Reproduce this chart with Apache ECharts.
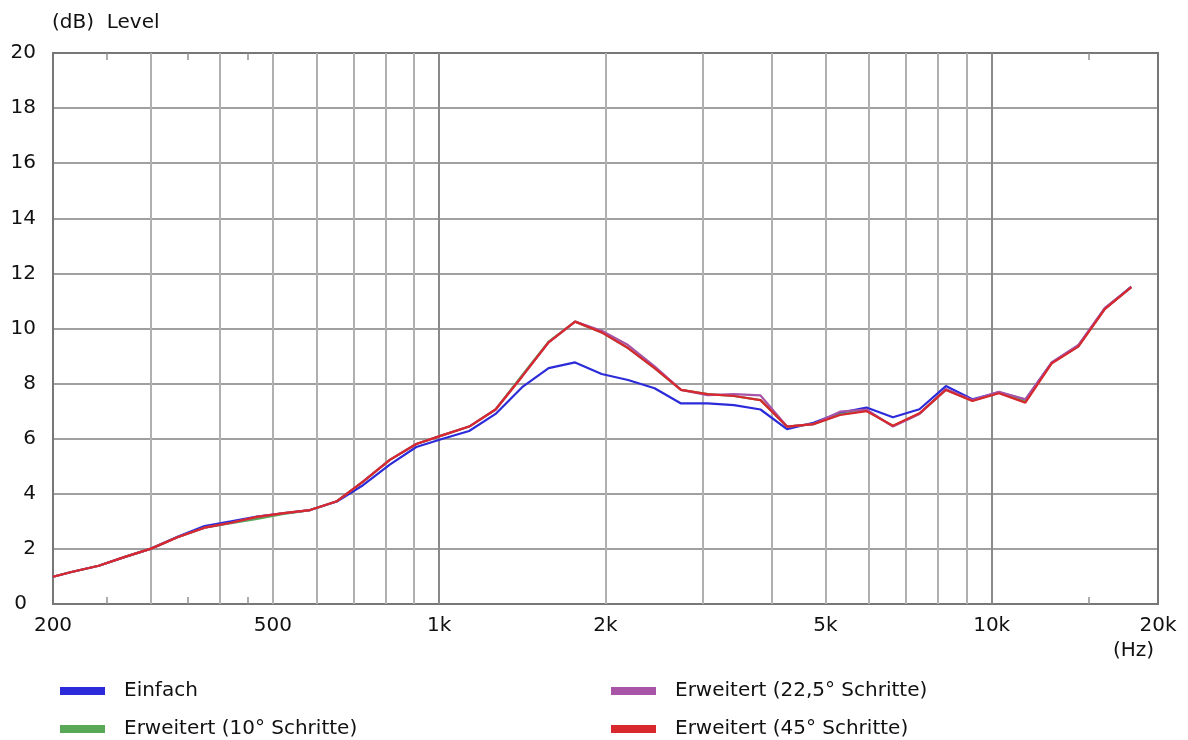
<!DOCTYPE html>
<html><head><meta charset="utf-8">
<script src="https://cdn.jsdelivr.net/npm/echarts@6/dist/echarts.min.js"></script>
<style>html,body{margin:0;padding:0;background:#fff}#c{width:1188px;height:740px}</style>
</head><body><div id="c"></div><script>
// Frequencies (Hz)
const freqs = [200, 216, 242, 270, 301, 336, 376, 420, 468, 523, 584, 653, 729, 814, 909,
  1015, 1133, 1265, 1413, 1578, 1762, 1968, 2197, 2454, 2740, 3060, 3417, 3816, 4261, 4758,
  5314, 5934, 6626, 7400, 8263, 9228, 10305, 11507, 12850, 14350, 16024, 17894];
// Level (dB)
const einfach = [0.99, 1.16, 1.39, 1.71, 2.01, 2.44, 2.83, 3.00, 3.17, 3.29, 3.41, 3.72, 4.32, 5.06, 5.70,
  6.00, 6.28, 6.90, 7.87, 8.56, 8.77, 8.35, 8.13, 7.83, 7.28, 7.28, 7.22, 7.06, 6.35, 6.58,
  6.94, 7.13, 6.78, 7.07, 7.91, 7.43, 7.68, 7.42, 8.77, 9.38, 10.72, 11.52];
const erw10 = [0.99, 1.16, 1.39, 1.71, 2.01, 2.42, 2.77, 2.93, 3.09, 3.27, 3.41, 3.73, 4.45, 5.23, 5.81,
  6.13, 6.44, 7.06, 8.31, 9.52, 10.25, 9.86, 9.29, 8.56, 7.77, 7.62, 7.55, 7.40, 6.44, 6.53,
  6.88, 7.02, 6.46, 6.91, 7.78, 7.38, 7.67, 7.36, 8.75, 9.36, 10.72, 11.50];
const erw22 = [0.99, 1.16, 1.39, 1.71, 2.01, 2.42, 2.77, 2.95, 3.16, 3.30, 3.41, 3.73, 4.45, 5.23, 5.81,
  6.13, 6.44, 7.06, 8.26, 9.50, 10.25, 9.92, 9.40, 8.63, 7.77, 7.58, 7.62, 7.57, 6.44, 6.53,
  6.98, 7.06, 6.44, 6.90, 7.80, 7.40, 7.70, 7.43, 8.77, 9.40, 10.75, 11.50];
const erw45 = [0.99, 1.16, 1.39, 1.71, 2.01, 2.42, 2.77, 2.95, 3.16, 3.30, 3.41, 3.73, 4.45, 5.23, 5.81,
  6.13, 6.44, 7.06, 8.26, 9.50, 10.25, 9.86, 9.29, 8.56, 7.77, 7.62, 7.55, 7.40, 6.44, 6.53,
  6.86, 7.00, 6.47, 6.92, 7.77, 7.37, 7.65, 7.31, 8.74, 9.34, 10.70, 11.50];

const seriesNames = ['Einfach', 'Erweitert (10° Schritte)', 'Erweitert (22,5° Schritte)', 'Erweitert (45° Schritte)'];
const seriesColors = ['#2b2bd9', '#58a858', '#a855a8', '#d8282e'];

// x-axis gridlines / ticks / labels
const minorGrid = [300, 400, 500, 600, 700, 800, 900, 2000, 3000, 4000, 5000, 6000, 7000, 8000, 9000];
const majorGrid = [1000, 10000];
const shortTicks = [250, 350, 450, 15000];
const xTickValues = [200, 500, 1000, 2000, 5000, 10000, 20000];
const xTickLabels = ['200', '500', '1k', '2k', '5k', '10k', '20k'];

const FONT = 'DejaVu Sans';
const chart = echarts.init(document.getElementById('c'));
const zip = (a, b) => a.map((v, i) => [v, b[i]]);
const dataSets = [einfach, erw10, erw22, erw45];

const series = dataSets.map((d, i) => ({
  name: seriesNames[i], type: 'line', data: zip(freqs, d), showSymbol: false, symbol: 'none',
  lineStyle: { width: 2.2, color: seriesColors[i] }, itemStyle: { color: seriesColors[i] }, z: 5 + i, clip: true
}));

series.push({
  type: 'line', data: [], z: 1, silent: true,
  markLine: {
    silent: true, symbol: 'none', animation: false,
    label: { show: false },
    lineStyle: { color: '#b0b0b0', width: 2, type: 'solid' },
    emphasis: { disabled: true },
    data: minorGrid.map(f => ({ xAxis: f }))
  }
});
series.push({
  type: 'line', data: [], z: 2, silent: true,
  markLine: {
    silent: true, symbol: 'none', animation: false,
    label: { show: false },
    lineStyle: { color: '#8a8a8a', width: 2, type: 'solid' },
    emphasis: { disabled: true },
    data: majorGrid.map(f => ({ xAxis: f }))
  }
});
series.push({
  type: 'line', data: [], z: 4, silent: true,
  markLine: {
    silent: true, symbol: 'none', animation: false,
    label: { show: false },
    lineStyle: { color: '#909090', width: 1.5, type: 'solid' },
    emphasis: { disabled: true },
    data: shortTicks.flatMap(f => [
      [{ coord: [f, 0] }, { coord: [f, 0.25] }],
      [{ coord: [f, 19.75] }, { coord: [f, 20] }]
    ])
  }
});

const legendPos = [[55, 676], [55, 714], [606, 676], [606, 714]];
const legends = seriesNames.map((n, i) => ({
  data: [n], left: legendPos[i][0], top: legendPos[i][1], orient: 'vertical',
  icon: 'rect', itemWidth: 45, itemHeight: 8, selectedMode: false,
  textStyle: { fontSize: 20, fontFamily: FONT, color: '#111', padding: [0, 0, 0, 14] }
}));

chart.setOption({
  animation: false,
  backgroundColor: '#fff',
  grid: { left: 53, right: 30, top: 53, bottom: 136, show: true, borderColor: '#777', borderWidth: 2, backgroundColor: 'transparent', z: 3 },
  xAxis: { type: 'log', logBase: 10, min: 200, max: 20000,
    axisLine: { show: false }, axisTick: { show: false }, axisLabel: { show: false }, splitLine: { show: false } },
  yAxis: { type: 'value', min: 0, max: 20, interval: 2,
    axisLine: { show: false }, axisTick: { show: false },
    axisLabel: { fontSize: 20, fontFamily: FONT, color: '#111', margin: 17,
      formatter: v => v === 0 ? '{z|0}' : String(v),
      rich: { z: { fontSize: 20, fontFamily: FONT, color: '#111', padding: [0, 9, 0, 0] } } },
    splitLine: { show: true, showMinLine: false, showMaxLine: false, lineStyle: { color: '#a0a0a0', width: 2 } } },
  legend: legends,
  series: series
});

// x tick labels placed through the axis scale
const labelY = chart.convertToPixel({ yAxisIndex: 0 }, 0) + 22;
const graphics = xTickValues.map((f, i) => ({
  type: 'text', x: chart.convertToPixel({ xAxisIndex: 0 }, f), y: labelY, silent: true,
  style: { text: xTickLabels[i], font: '20px "DejaVu Sans"', fill: '#111', textAlign: 'center', textVerticalAlign: 'middle' }
}));
graphics.push({ type: 'text', left: 52, top: 13, silent: true, style: { text: '(dB)  Level', font: '20px "DejaVu Sans"', fill: '#111' } });
graphics.push({ type: 'text', left: 1113, top: 641, silent: true, style: { text: '(Hz)', font: '20px "DejaVu Sans"', fill: '#111' } });
chart.setOption({ graphic: graphics });
</script></body></html>
